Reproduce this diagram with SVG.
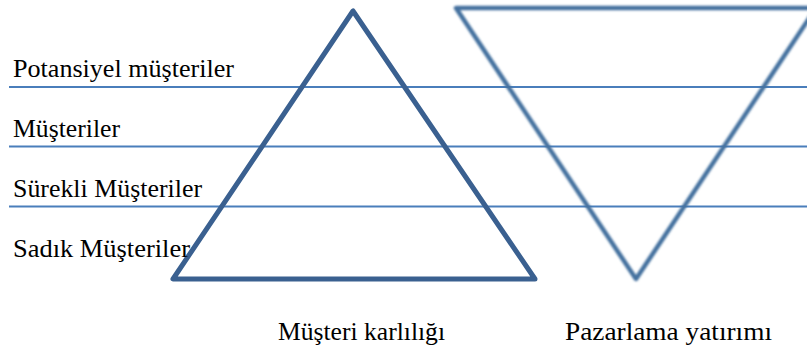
<svg xmlns="http://www.w3.org/2000/svg" width="807" height="351" viewBox="0 0 807 351">
<style>
.hline{stroke:#4a7ebb;stroke-width:2;fill:none}
text{font-family:"Liberation Serif",serif;font-size:25px;fill:#000}
</style>
<defs>
<filter id="soft" x="-5%" y="-5%" width="110%" height="110%"><feGaussianBlur stdDeviation="0.9"/></filter>
</defs>
<rect width="807" height="351" fill="#fff"/>
<g id="connectors">
<line class="hline" x1="9" y1="87" x2="807" y2="87"/>
<line class="hline" x1="9" y1="146.5" x2="807" y2="146.5"/>
<line class="hline" x1="9" y1="206.5" x2="807" y2="206.5"/>
</g>
<g id="pyramid">
<polygon points="353,11 173,279 535,279" fill="none" stroke="#3a6090" stroke-width="5" stroke-linejoin="round"/>
</g>
<g id="inverted">
<polygon points="456,8 816,8 636,279" fill="none" stroke="#44719f" stroke-width="4.5" stroke-linejoin="round" filter="url(#soft)"/>
</g>
<g id="labels">
<text x="13" y="77" textLength="221" lengthAdjust="spacingAndGlyphs">Potansiyel müşteriler</text>
<text x="13" y="137" textLength="107" lengthAdjust="spacingAndGlyphs">Müşteriler</text>
<text x="13" y="197" textLength="189" lengthAdjust="spacingAndGlyphs">Sürekli Müşteriler</text>
<text x="13" y="257" textLength="177" lengthAdjust="spacingAndGlyphs">Sadık Müşteriler</text>
<text x="278" y="340" textLength="167" lengthAdjust="spacingAndGlyphs">Müşteri karlılığı</text>
<text x="565" y="340" textLength="207" lengthAdjust="spacingAndGlyphs">Pazarlama yatırımı</text>
</g>
</svg>
